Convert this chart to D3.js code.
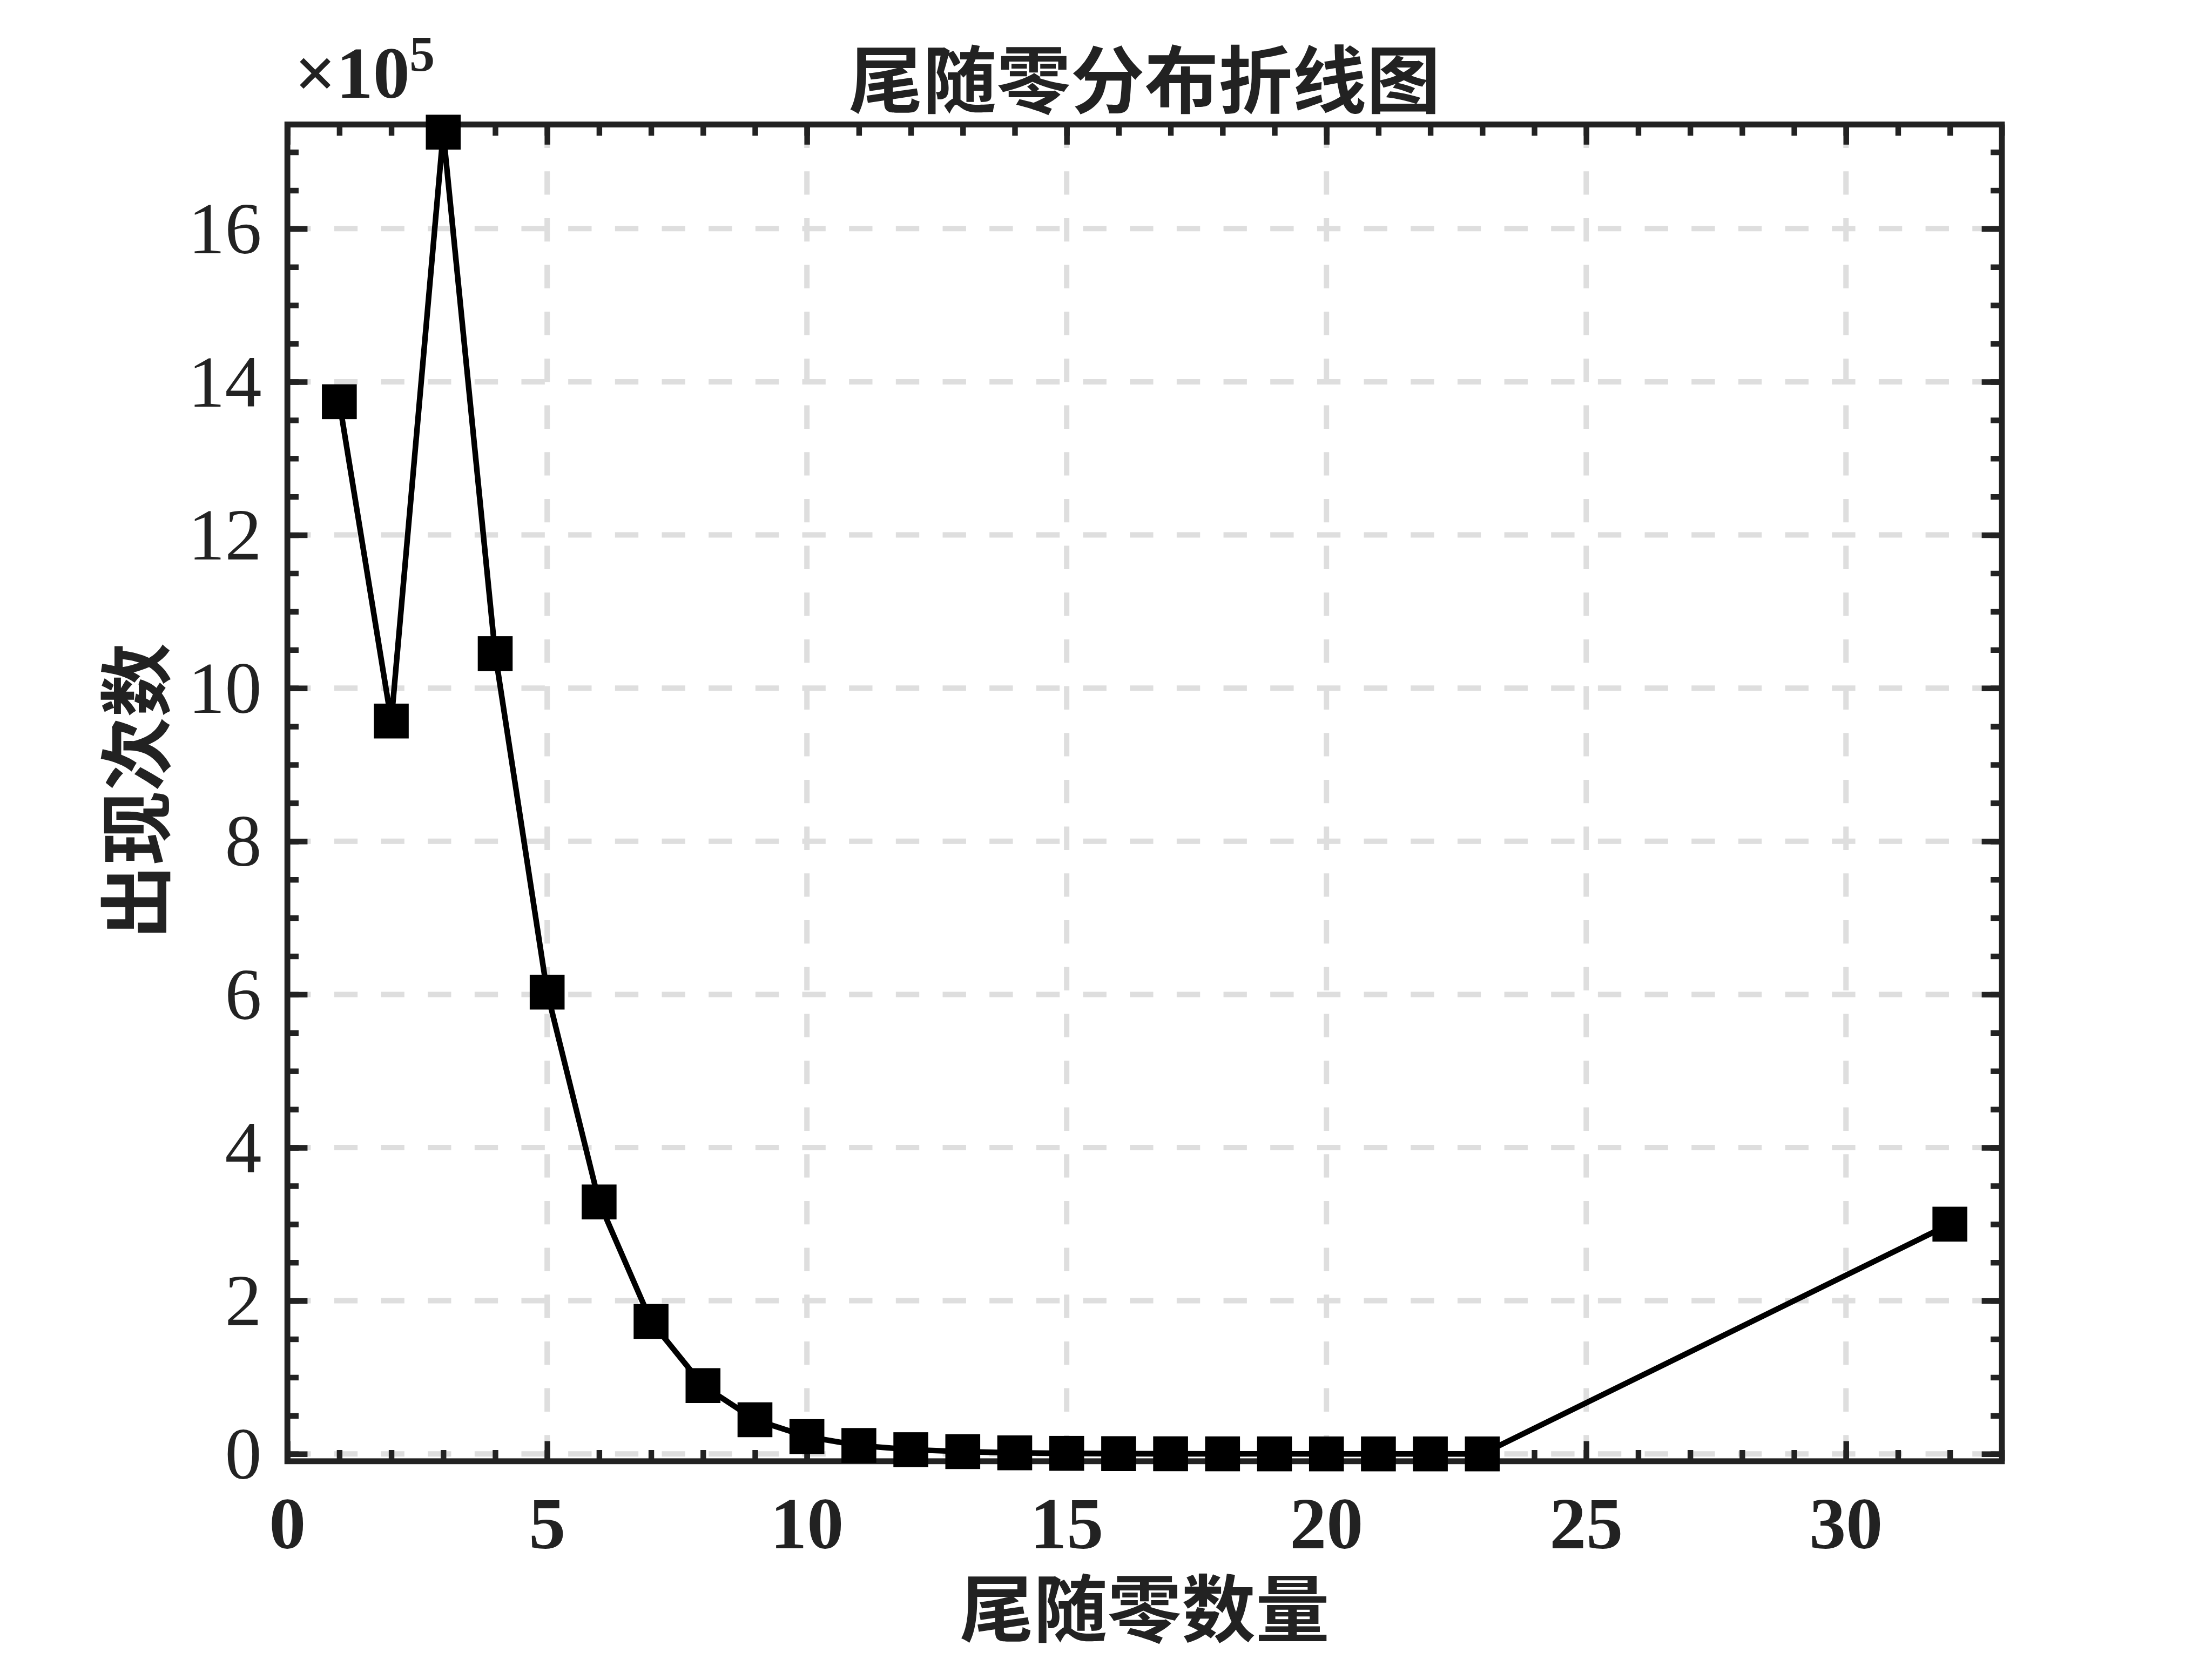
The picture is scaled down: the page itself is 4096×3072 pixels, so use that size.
<!DOCTYPE html>
<html><head><meta charset="utf-8">
<script src="https://cdn.jsdelivr.net/npm/d3@7/dist/d3.min.js"></script>
<style>html,body{margin:0;padding:0;background:#fff;overflow:hidden}</style>
</head><body>
<script>
// ---- data ----
const xCategories = [1,2,3,4,5,6,7,8,9,10,11,12,13,14,15,16,17,18,19,20,21,22,23,32];
const counts = [1374000, 957000, 1726000, 1045000, 603000, 329000, 173000, 89200, 44600, 22600,
                11000, 5500, 3000, 1400, 700, 350, 180, 90, 40, 20, 10, 5, 3, 300000];
const xTickValues = [0,5,10,15,20,25,30];
const xTickLabels = ['0','5','10','15','20','25','30'];
const yTickValues = [0,200000,400000,600000,800000,1000000,1200000,1400000,1600000];
const yTickLabels = ['0','2','4','6','8','10','12','14','16'];
const titleText = '尾随零分布折线图';
const xLabelText = '尾随零数量';
const yLabelText = '出现次数';
const multiplierText = '×10';
const exponentText = '5';

// ---- layout (reference px scaled to window) ----
const S = 4096/4726;
const W = 4096, H = 3072;
const L = 614*S, R = 4277*S, T = 266*S, B = 3122*S;
const axisColor = '#222222';
const serif = '"Liberation Serif","Times New Roman",serif';
const cjk = '"Noto Sans CJK SC","Noto Sans CJK TC",sans-serif';
const tickFs = 157*S;
const labelFs = 158*S;

const x = d3.scaleLinear().domain([0,33]).range([L,R]);
const y = d3.scaleLinear().domain([-9600,1736000]).range([B,T]);

const svg = d3.select('body').append('svg').attr('width',W).attr('height',H)
  .attr('viewBox',`0 0 ${W} ${H}`);
svg.append('rect').attr('width',W).attr('height',H).attr('fill','#fff');

// ---- grid ----
const grid = svg.append('g').attr('stroke','#dedede').attr('stroke-width',11.5*S)
  .attr('stroke-dasharray',`${50*S},${50*S}`).attr('fill','none');
grid.selectAll('line.v').data(xTickValues.filter(d=>d>0)).join('line').attr('class','v')
  .attr('x1',d=>x(d)).attr('x2',d=>x(d)).attr('y1',T).attr('y2',B);
grid.selectAll('line.h').data(yTickValues).join('line').attr('class','h')
  .attr('x1',L).attr('x2',R).attr('y1',d=>y(d)).attr('y2',d=>y(d));

// ---- ticks (inward, all four sides) ----
const xMinor = d3.range(0,34,1);
const yMinor = d3.range(0,1736000,50000);
const majLen = 43*S, minLen = 24*S;
const tickW = 12*S;
function drawAxis(gen, transform){
  const g = svg.append('g').attr('transform',transform).call(gen);
  g.select('.domain').remove();
  g.selectAll('.tick line').attr('stroke',axisColor).attr('stroke-width',tickW);
  g.selectAll('.tick text').remove();
  return g;
}
drawAxis(d3.axisBottom(x).tickValues(xMinor).tickSize(-minLen).tickFormat(''), `translate(0,${B})`);
drawAxis(d3.axisBottom(x).tickValues(xTickValues).tickSize(-majLen).tickFormat(''), `translate(0,${B})`);
drawAxis(d3.axisTop(x).tickValues(xMinor).tickSize(-minLen).tickFormat(''), `translate(0,${T})`);
drawAxis(d3.axisTop(x).tickValues(xTickValues).tickSize(-majLen).tickFormat(''), `translate(0,${T})`);
drawAxis(d3.axisLeft(y).tickValues(yMinor).tickSize(-minLen).tickFormat(''), `translate(${L},0)`);
drawAxis(d3.axisLeft(y).tickValues(yTickValues).tickSize(-majLen).tickFormat(''), `translate(${L},0)`);
drawAxis(d3.axisRight(y).tickValues(yMinor).tickSize(-minLen).tickFormat(''), `translate(${R},0)`);
drawAxis(d3.axisRight(y).tickValues(yTickValues).tickSize(-majLen).tickFormat(''), `translate(${R},0)`);

// ---- box ----
svg.append('rect').attr('x',L).attr('y',T).attr('width',R-L).attr('height',B-T)
  .attr('fill','none').attr('stroke',axisColor).attr('stroke-width',12.5*S);

// ---- tick labels ----
svg.append('g').selectAll('text').data(xTickValues).join('text')
  .attr('x',d=>x(d)).attr('y',3308*S).attr('text-anchor','middle')
  .attr('font-family',serif).attr('font-weight','bold').attr('font-size',tickFs)
  .attr('fill',axisColor).text((d,i)=>xTickLabels[i]);
svg.append('g').selectAll('text').data(yTickValues).join('text')
  .attr('x',559*S).attr('y',d=>y(d)+0.335*tickFs).attr('text-anchor','end')
  .attr('font-family',serif).attr('font-size',tickFs)
  .attr('fill',axisColor).text((d,i)=>yTickLabels[i]);

// ---- exponent ----
svg.append('text').attr('x',629*S).attr('y',209*S)
  .attr('font-family',serif).attr('font-weight','bold').attr('font-size',tickFs)
  .attr('fill',axisColor).text(multiplierText);
svg.append('text').attr('x',875*S).attr('y',151*S)
  .attr('font-family',serif).attr('font-weight','bold').attr('font-size',108*S)
  .attr('fill',axisColor).text(exponentText);

// ---- titles ----
const cx = (L+R)/2;
svg.append('text').attr('x',cx).attr('y',(169+0.38*158)*S).attr('text-anchor','middle')
  .attr('font-family',cjk).attr('font-weight','bold').attr('font-size',labelFs)
  .attr('fill',axisColor).text(titleText);
svg.append('text').attr('x',cx).attr('y',(3436+0.38*158)*S).attr('text-anchor','middle')
  .attr('font-family',cjk).attr('font-weight','bold').attr('font-size',labelFs)
  .attr('fill',axisColor).text(xLabelText);
const cy = (T+B)/2 - 4*S;
svg.append('text').attr('transform',`translate(${(289+0.38*158)*S},${cy}) rotate(-90)`)
  .attr('text-anchor','middle')
  .attr('font-family',cjk).attr('font-weight','bold').attr('font-size',labelFs)
  .attr('fill',axisColor).text(yLabelText);

// ---- series ----
const pts = xCategories.map((d,i)=>({x:d, v:counts[i]}));
const line = d3.line().x(d=>x(d.x)).y(d=>y(d.v));
svg.append('path').datum(pts).attr('d',line).attr('fill','none')
  .attr('stroke','#000').attr('stroke-width',12*S).attr('stroke-linejoin','miter');
const ms = 74.5*S;
svg.append('g').selectAll('rect').data(pts).join('rect')
  .attr('x',d=>x(d.x)-ms/2).attr('y',d=>y(d.v)-ms/2)
  .attr('width',ms).attr('height',ms).attr('fill','#000');
</script>
</body></html>
